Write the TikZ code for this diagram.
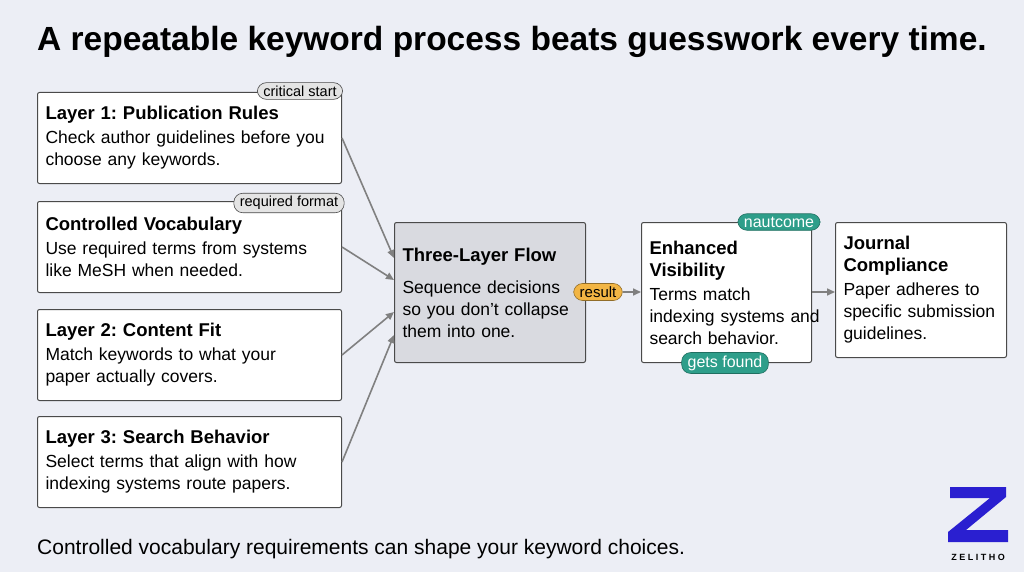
\documentclass[tikz,border=0pt]{standalone}
\usepackage{fontspec}
\setmainfont{Liberation Sans}
\usetikzlibrary{arrows.meta,positioning}
\definecolor{bgcol}{HTML}{ECEEF5}
\definecolor{edgecol}{HTML}{4A4A4A}
\definecolor{flowfill}{HTML}{D9DAE0}
\definecolor{tealcol}{HTML}{2E9E8A}
\definecolor{orangecol}{HTML}{F2B544}
\definecolor{tagfill}{HTML}{E4E4E4}
\definecolor{zblue}{HTML}{2A1FD0}
\frenchspacing
\newcommand{\boxhead}[1]{{\fontsize{18.5}{22}\selectfont\bfseries #1}}
\tikzset{
  box/.style={draw=edgecol,line width=1pt,rounded corners=2pt,fill=white,anchor=north west,
    align=left,inner xsep=8pt,inner ysep=6pt,font=\fontsize{17.5}{22}\selectfont},
  tag/.style={draw=edgecol,line width=0.6pt,rounded corners=9pt,fill=tagfill,inner xsep=6pt,
    inner ysep=3pt,font=\fontsize{14.5}{16}\selectfont},
  tealtag/.style={tag,fill=tealcol,draw=tealcol!70!black,text=white,font=\fontsize{16}{18}\selectfont},
  flow/.style={-{Triangle[length=8pt,width=7pt]},draw=gray,line width=1.6pt}
}
\begin{document}
\begin{tikzpicture}[x=1pt,y=-1pt]
\fill[bgcol] (0,0) rectangle (1024,572);
\node[anchor=west,font=\fontsize{33.5}{38}\selectfont\bfseries,inner sep=0pt] (title) at (37,42) {A repeatable keyword process beats guesswork every time.};
% left column
\node[box,text width=288pt,minimum height=91pt] (lone) at (37,92) {\boxhead{Layer 1: Publication Rules}\\[2pt]Check author guidelines before you\\choose any keywords.};
\node[box,text width=288pt,minimum height=91pt] (vocab) at (37,201) {\boxhead{Controlled Vocabulary}\\[2pt]Use required terms from systems\\like MeSH when needed.};
\node[box,text width=288pt,minimum height=91pt] (ltwo) at (37,309) {\boxhead{Layer 2: Content Fit}\\[2pt]Match keywords to what your\\paper actually covers.};
\node[box,text width=288pt,minimum height=91pt] (lthree) at (37,416) {\boxhead{Layer 3: Search Behavior}\\[2pt]Select terms that align with how\\indexing systems route papers.};
\node[tag] (critical) at (300,91) {critical start};
\node[tag] (format) at (289,203) {required format};
% middle and right
\node[box,fill=flowfill,text width=175pt,minimum height=140pt] (flowbox) at (394,222) {\boxhead{Three-Layer Flow}\\[10pt]Sequence decisions\\so you don’t collapse\\them into one.\\[10pt]};
\node[box,text width=154pt,minimum height=140pt] (visib) at (641,222) {\boxhead{Enhanced}\\\boxhead{Visibility}\\[2pt]Terms match\\\leavevmode\rlap{indexing systems and}\\search behavior.\\[4pt]};
\node[box,text width=155pt,minimum height=135pt] (journal) at (835,222) {\boxhead{Journal}\\\boxhead{Compliance}\\[2pt]Paper adheres to\\specific submission\\guidelines.\\[4pt]};
\draw[flow] (lone.east) -- ([yshift=-36pt]flowbox.north west);
\draw[flow] (vocab.east) -- ([yshift=-58pt]flowbox.north west);
\draw[flow] (ltwo.east) -- ([yshift=-90pt]flowbox.north west);
\draw[flow] (lthree.east) -- ([yshift=-113pt]flowbox.north west);
\node[tag,fill=orangecol,draw=orangecol!60!black,font=\fontsize{15}{17}\selectfont] (result) at (598,292) {result};
\draw[flow] (result.east) -- (visib.west |- result.east);
\draw[flow] (visib.east |- result.east) -- (journal.west |- result.east);
\node[tealtag] (outcome) at (779,222) {nautcome};
\node[tealtag] (found) at (725,363) {gets found};
% footer
\node[anchor=west,font=\fontsize{21}{24}\selectfont,inner sep=0pt] (note) at (37,549) {Controlled vocabulary requirements can shape your keyword choices.};
\fill[zblue] (950,487) -- (1006,487) -- (1006,497) -- (966,530) -- (1008,530) -- (1008,542) -- (948,542) -- (948,532) -- (990,498) -- (950,498) -- cycle;
\node[font=\fontsize{9}{10}\selectfont\bfseries] (zel) at (978,557) {Z E L I T H O};
\end{tikzpicture}
\end{document}
